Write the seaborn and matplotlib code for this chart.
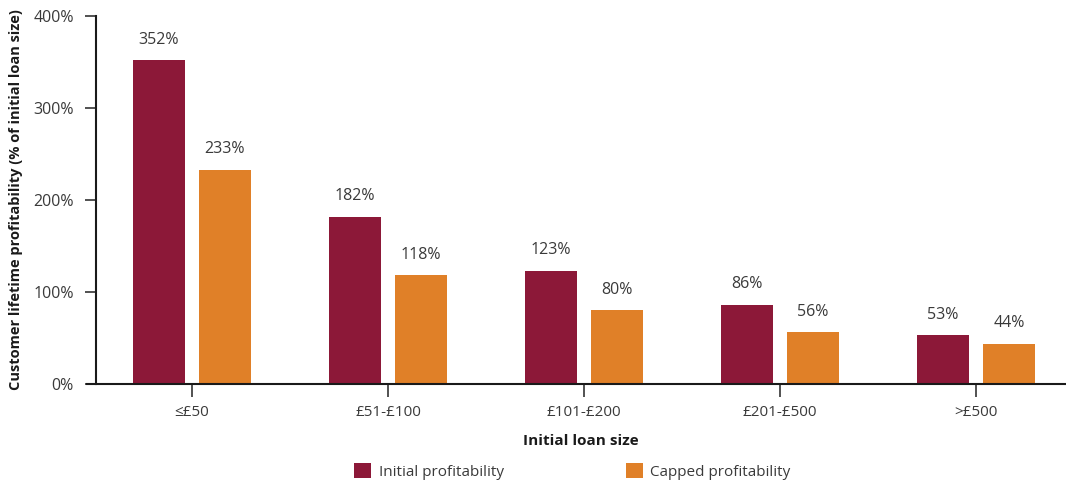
import matplotlib
matplotlib.use("Agg")
import matplotlib.pyplot as plt
import seaborn as sns
import pandas as pd
from matplotlib.patches import Patch

categories = ["\u2264\u00a350", "\u00a351-\u00a3100", "\u00a3101-\u00a3200", "\u00a3201-\u00a3500", ">\u00a3500"]
initial_profitability = [352, 182, 123, 86, 53]
capped_profitability = [233, 118, 80, 56, 44]
series_names = ["Initial profitability", "Capped profitability"]
y_ticks = [0, 100, 200, 300, 400]

df = pd.DataFrame({
    "Initial loan size": categories * 2,
    "value": initial_profitability + capped_profitability,
    "series": [series_names[0]] * len(categories) + [series_names[1]] * len(categories),
})

sns.set_theme(style="white")
plt.rcParams["font.family"] = ["Open Sans", "DejaVu Sans"]

maroon = "#8C1838"
orange = "#E08028"
text_col = "#3a3a3a"

fig = plt.figure(figsize=(10.66, 4.84), dpi=100)
ax = fig.add_axes([0.090, 0.2066, 0.910, 0.7604])

sns.barplot(data=df, x="Initial loan size", y="value", hue="series",
            palette=[maroon, orange], width=0.673, gap=0.212,
            ax=ax, legend=False, saturation=1, linewidth=0)

for cont in ax.containers:
    ax.bar_label(cont, labels=[f"{v:.0f}%" for v in cont.datavalues],
                 padding=9, fontsize=11.5, color=text_col)

ax.set_xlim(-0.49, 4.459)
ax.set_ylim(0, 400)
ax.set_yticks(y_ticks)
ax.set_yticklabels([f"{t}%" for t in y_ticks])

for s in ["top", "right"]:
    ax.spines[s].set_visible(False)
for s in ["left", "bottom"]:
    ax.spines[s].set_color("#1a1a1a")
    ax.spines[s].set_linewidth(1.5)
ax.spines["bottom"].set_bounds(-0.537, 4.459)

ax.tick_params(axis="y", direction="out", length=8, width=1.2, color="#333333",
               labelsize=11.5, labelcolor=text_col, pad=8, left=True)
ax.tick_params(axis="x", direction="out", length=9, width=1.2, color="#333333",
               labelsize=11, labelcolor=text_col, pad=6, bottom=True)

ax.set_ylabel("Customer lifetime profitability (% of initial loan size)",
              fontsize=10.5, fontweight="bold", color="#1a1a1a", labelpad=7)
ax.set_xlabel("Initial loan size", fontsize=11, fontweight="bold",
              color="#1a1a1a", labelpad=10)

handles = [Patch(facecolor=maroon, edgecolor="none"),
           Patch(facecolor=orange, edgecolor="none")]
fig.legend(handles, series_names, loc="center", bbox_to_anchor=(0.537, 0.026),
           ncol=2, frameon=False, fontsize=11, labelcolor=text_col,
           handlelength=1.1, handleheight=1.1, handletextpad=0.5,
           columnspacing=8.0)

fig.savefig("out.png", dpi=100)
